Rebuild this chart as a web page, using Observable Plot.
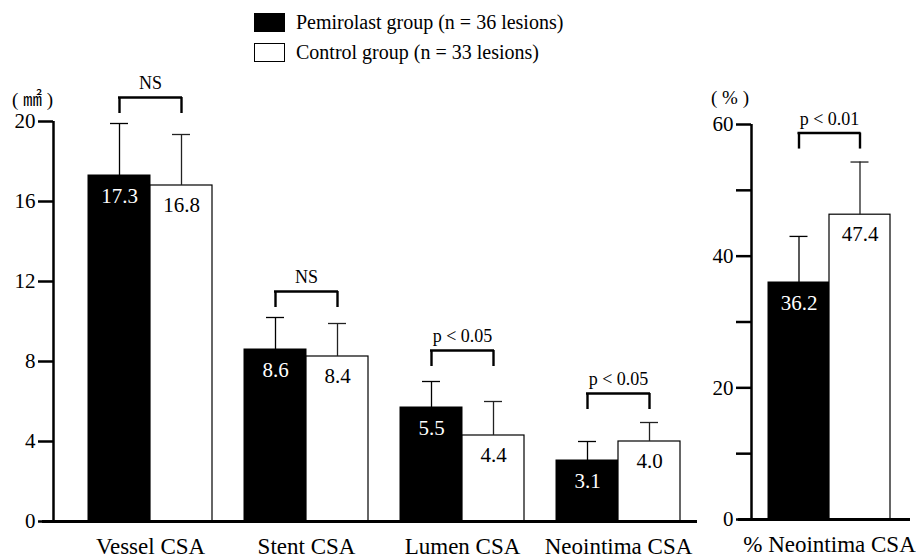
<!DOCTYPE html>
<html><head><meta charset="utf-8">
<script src="https://cdn.jsdelivr.net/npm/d3@7"></script>
<script src="https://cdn.jsdelivr.net/npm/@observablehq/plot@0.6"></script>
<style>
body{margin:0;background:#fff;font-family:"Liberation Serif","Noto Sans CJK JP",serif;color:#000;}
#wrap{position:relative;width:916px;height:558px;overflow:hidden;background:#fff;}
.panel{position:absolute;top:0;}
.abs{position:absolute;white-space:nowrap;}
.swatch{position:absolute;width:31px;height:19px;border:1px solid #000;box-sizing:border-box;}
</style></head><body>
<div id="wrap">
  <div id="left" class="panel" style="left:0"></div>
  <div id="right" class="panel" style="left:700px"></div>
</div>
<script>
// ---- data ----
const categories = ["Vessel CSA", "Stent CSA", "Lumen CSA", "Neointima CSA"];
const pemirolastMean = [17.3, 8.6, 5.7, 3.05];
const pemirolastSD   = [2.6, 1.6, 1.3, 0.95];
const controlMean    = [16.8, 8.25, 4.3, 4.0];
const controlSD      = [2.55, 1.65, 1.7, 0.95];
const pemirolastLabels = ["17.3", "8.6", "5.5", "3.1"];
const controlLabels    = ["16.8", "8.4", "4.4", "4.0"];
const sigLabels = ["NS", "NS", "p < 0.05", "p < 0.05"];
const sigLevels = [21.2, 11.5, 8.55, 6.4];
const leftTicks = [0, 4, 8, 12, 16, 20];

const pctCategories = ["% Neointima CSA"];
const pctPemirolastMean = [36.0];
const pctPemirolastSD   = [7.0];
const pctControlMean    = [46.3];
const pctControlSD      = [8.0];
const pctPemirolastLabels = ["36.2"];
const pctControlLabels    = ["47.4"];
const pctSigLabels = ["p < 0.01"];
const pctSigLevels = [58.7];
const rightTicks = [0, 10, 20, 30, 40, 50, 60];
const rightTickLabels = [0, 20, 40, 60];

const legendLabels = ["Pemirolast group (n = 36 lesions)", "Control group (n = 33 lesions)"];
const legendColors = ["#000", "#fff"];
const unitLabels = ["( \u339F )", "( % )"];

// ---- panel builder ----
function panel(o) {
  const n = o.cats.length;
  const range = o.width - o.marginLeft - o.marginRight;
  const bw = 2 * o.barW;
  const step = bw + o.gap;
  const pi = o.gap / step;
  const outerTotal = range - step * (n - pi);
  const po = outerTotal / (2 * step);
  const align = o.outerLeft / outerTotal;
  const pxPerUnit = (o.height - o.marginTop - o.marginBottom) / o.yMax;
  const drop = 16 / pxPerUnit;
  const rows = o.cats.map((c, i) => ({
    cat: c, pm: o.pm[i], ps: o.ps[i], cm: o.cm[i], cs: o.cs[i],
    pl: o.pl[i], cl: o.cl[i], sig: o.sig[i], lvl: o.lvl[i]
  }));
  const q = bw / 4;
  return Plot.plot({
    width: o.width, height: o.height,
    marginLeft: o.marginLeft, marginRight: o.marginRight,
    marginTop: o.marginTop, marginBottom: o.marginBottom,
    style: {fontFamily: "'Liberation Serif', serif", fontSize: "20px", color: "#000", background: "#fff", overflow: "visible"},
    x: {type: "band", domain: o.cats, paddingInner: pi, paddingOuter: po, align},
    y: {domain: [0, o.yMax]},
    marks: [
      Plot.barY(rows, {x: "cat", y: "pm", fill: "#000", stroke: "#000", strokeWidth: 1, insetRight: bw / 2}),
      Plot.barY(rows, {x: "cat", y: "cm", fill: "#fff", stroke: "#000", strokeWidth: 1.2, insetLeft: bw / 2}),
      // error bars
      Plot.ruleX(rows, {x: "cat", y1: "pm", y2: d => d.pm + d.ps, dx: -q, stroke: "#000", strokeWidth: 1.3}),
      Plot.tickY(rows, {x: "cat", y: d => d.pm + d.ps, insetLeft: q - 9, insetRight: bw - q - 9, stroke: "#000", strokeWidth: 1.3}),
      Plot.ruleX(rows, {x: "cat", y1: "cm", y2: d => d.cm + d.cs, dx: q, stroke: "#222", strokeWidth: 1.3}),
      Plot.tickY(rows, {x: "cat", y: d => d.cm + d.cs, insetLeft: bw - q - 9, insetRight: q - 9, stroke: "#222", strokeWidth: 1.3}),
      // significance brackets
      Plot.tickY(rows, {x: "cat", y: "lvl", insetLeft: q - 1, insetRight: q - 1, stroke: "#000", strokeWidth: 2.4}),
      Plot.ruleX(rows, {x: "cat", y1: "lvl", y2: d => d.lvl - drop, dx: -q, stroke: "#000", strokeWidth: 2.4}),
      Plot.ruleX(rows, {x: "cat", y1: "lvl", y2: d => d.lvl - drop, dx: q, stroke: "#000", strokeWidth: 2.4}),
      Plot.text(rows, {x: "cat", y: "lvl", text: "sig", dy: -14, fontSize: 18, fill: "#000"}),
      // value labels
      Plot.text(rows, {x: "cat", y: "pm", text: "pl", dx: -q, dy: 21, fill: "#fff", fontSize: 21}),
      Plot.text(rows, {x: "cat", y: "cm", text: "cl", dx: q, dy: 20, fill: "#000", fontSize: 21}),
      // axes
      Plot.axisY({ticks: o.ticks, tickFormat: o.tickFormat, tickSize: 15, tickPadding: 3, strokeWidth: 2.5, fontSize: 21, label: null}),
      Plot.axisX({tickSize: 0, tickPadding: 16, fontSize: 23, label: null}),
      Plot.ruleX([o.cats[0]], {x: d => d, y1: 0, y2: o.yMax, dx: -(o.outerLeft + bw / 2), stroke: "#000", strokeWidth: 2.5}),
      Plot.ruleY([0], {insetLeft: -o.baseExtend, stroke: "#000", strokeWidth: 3})
    ]
  });
}

document.getElementById("left").appendChild(panel({
  cats: categories, pm: pemirolastMean, ps: pemirolastSD, cm: controlMean, cs: controlSD,
  pl: pemirolastLabels, cl: controlLabels, sig: sigLabels, lvl: sigLevels,
  width: 700, height: 558, marginLeft: 53, marginRight: 3, marginTop: 121, marginBottom: 37,
  barW: 62, gap: 32, outerLeft: 35, yMax: 20, ticks: leftTicks, tickFormat: d => d, baseExtend: 11
}));

document.getElementById("right").appendChild(panel({
  cats: pctCategories, pm: pctPemirolastMean, ps: pctPemirolastSD, cm: pctControlMean, cs: pctControlSD,
  pl: pctPemirolastLabels, cl: pctControlLabels, sig: pctSigLabels, lvl: pctSigLevels,
  width: 216, height: 558, marginLeft: 51, marginRight: 6, marginTop: 124, marginBottom: 39,
  barW: 61, gap: 0, outerLeft: 17, yMax: 60, ticks: rightTicks,
  tickFormat: d => rightTickLabels.includes(d) ? d : "", baseExtend: 13
}));

// legend and unit labels
const wrap = document.getElementById("wrap");
legendLabels.forEach((lab, i) => {
  const sw = document.createElement("div");
  sw.className = "swatch";
  sw.style.left = "254px"; sw.style.top = (13 + i * 30) + "px"; sw.style.background = legendColors[i];
  wrap.appendChild(sw);
  const t = document.createElement("div");
  t.className = "abs";
  t.style.left = "296px"; t.style.top = (9 + i * 30) + "px";
  t.style.fontSize = "20px"; t.style.lineHeight = "26px";
  t.textContent = lab;
  wrap.appendChild(t);
});
[[12, 88], [711, 86]].forEach(([x, y], i) => {
  const t = document.createElement("div");
  t.className = "abs";
  t.style.left = x + "px"; t.style.top = y + "px";
  t.style.fontSize = "19px"; t.style.lineHeight = "24px";
  t.textContent = unitLabels[i];
  wrap.appendChild(t);
});
</script>
</body></html>
